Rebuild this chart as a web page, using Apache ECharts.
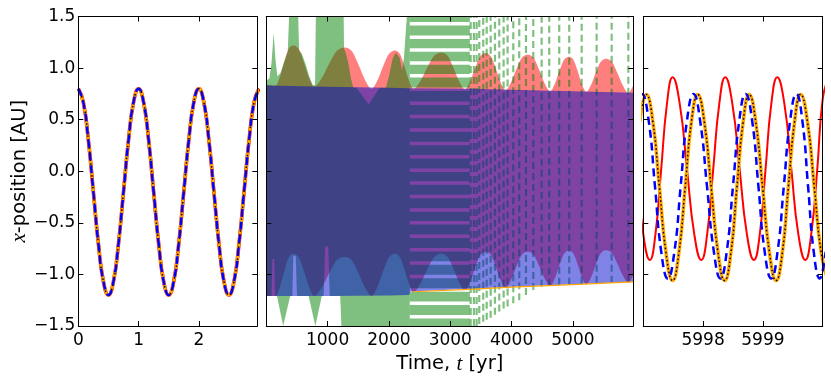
<!DOCTYPE html>
<html><head><meta charset="utf-8">
<script src="https://cdn.jsdelivr.net/npm/echarts@6/dist/echarts.min.js"></script>
<style>html,body{margin:0;padding:0;background:#fff}#c{width:831px;height:382px}</style>
</head><body><div id="c"></div>
<script>
// ---------------- DATA ----------------
// Left panel: first ~3 yr
const leftT = [0,0.083,0.167,0.25,0.333,0.417,0.5,0.583,0.667,0.75,0.833,0.917,
  1,1.083,1.167,1.25,1.333,1.417,1.5,1.583,1.667,1.75,1.833,1.917,
  2,2.083,2.167,2.25,2.333,2.417,2.5,2.583,2.667,2.75,2.833,2.917,3];
const leftX = [0.80,0.67,0.30,-0.20,-0.70,-1.07,-1.20,-1.07,-0.70,-0.20,0.30,0.67,
  0.80,0.67,0.30,-0.20,-0.70,-1.07,-1.20,-1.07,-0.70,-0.20,0.30,0.67,
  0.80,0.67,0.30,-0.20,-0.70,-1.07,-1.20,-1.07,-0.70,-0.20,0.30,0.67,0.80];

// Right panel: last 3 yr
const rightRedT = [5996.89,5997.0,5997.11,5997.205,5997.30,5997.395,5997.49,5997.61,5997.73,5997.85,5997.97,
  5998.07,5998.17,5998.27,5998.37,5998.49,5998.61,5998.73,5998.85,5998.95,5999.045,5999.14,5999.24,
  5999.36,5999.475,5999.59,5999.71,5999.81,5999.91,6000.0,6000.1];
const rightRedX = [0.025,-0.61,-0.86,-0.60,0.025,0.65,0.91,0.65,0.025,-0.60,-0.86,
  -0.60,0.025,0.65,0.91,0.65,0.025,-0.60,-0.86,-0.60,0.025,0.65,0.91,
  0.65,0.025,-0.60,-0.86,-0.60,0.025,0.70,0.91];
const rightOrangeT = [5996.94,5997.05,5997.16,5997.27,5997.38,5997.49,5997.595,5997.70,5997.805,5997.91,
  5998.02,5998.135,5998.25,5998.36,5998.465,5998.565,5998.67,5998.77,5998.88,5998.995,
  5999.11,5999.22,5999.325,5999.425,5999.53,5999.63,5999.745,5999.86,5999.975,6000.09];
const rightOrangeX = [0.48,0.745,0.48,-0.157,-0.79,-1.06,-0.79,-0.157,0.48,0.745,
  0.48,-0.157,-0.79,-1.06,-0.79,-0.157,0.48,0.745,0.48,-0.157,
  -0.79,-1.06,-0.79,-0.157,0.48,0.745,0.48,-0.157,-0.79,-1.06];
const rightBlueT = [5996.88,5996.98,5997.09,5997.195,5997.30,5997.41,5997.52,5997.625,5997.73,5997.84,5997.95,
  5998.065,5998.18,5998.29,5998.395,5998.50,5998.605,5998.71,5998.82,5998.925,
  5999.03,5999.14,5999.245,5999.35,5999.455,5999.56,5999.66,5999.755,5999.85,5999.95,6000.05];
const rightBlueX = [0.49,0.75,0.49,-0.145,-0.78,-1.04,-0.78,-0.145,0.49,0.75,0.49,
  -0.145,-0.78,-1.04,-0.78,-0.145,0.49,0.75,0.49,-0.145,
  -0.78,-1.04,-0.78,-0.145,0.49,0.75,0.49,-0.145,-0.78,-1.04,-0.78];

// Middle panel: envelopes of the densely oscillating curves
const midRedT = [0,150,222,295,368,440,525,610,695,780,905,1030,1155,1280,1389,1498,1608,1717,
  1813,1908,2004,2100,2175,2250,2325,2400,2514,2628,2743,2857,2953,3048,3144,3240,
  3324,3409,3493,3578,3658,3739,3819,3900,3990,4081,4171,4262,4354,4446,4538,4630,
  4706,4782,4859,4935,5005,5076,5146,5217,5298,5378,5459,5540,5631,5722,5813,5904,5985];
const midRedTop = [0.84,0.83,0.916,1.064,1.189,1.22,1.188,1.06,0.908,0.82,0.904,1.048,1.17,1.20,
  1.168,1.04,0.888,0.80,0.881,1.022,1.14,1.17,1.14,1.022,0.881,0.80,0.877,1.01,1.122,1.15,
  1.122,1.008,0.873,0.795,0.872,1.005,1.117,1.145,1.116,1.001,0.864,0.785,0.861,0.992,1.102,1.13,
  1.102,0.988,0.853,0.775,0.849,0.976,1.083,1.11,1.083,0.974,0.845,0.77,0.84,0.962,1.064,1.09,
  1.064,0.958,0.833,0.76,0.83];
const midRedBot = [-1.21,-1.21,-1.12,-0.964,-0.833,-0.80,-0.833,-0.964,-1.12,-1.21,-1.126,-0.982,-0.86,-0.83,
  -0.86,-0.982,-1.126,-1.21,-1.12,-0.964,-0.833,-0.80,-0.83,-0.948,-1.089,-1.17,-1.089,-0.948,-0.83,-0.80,
  -0.828,-0.941,-1.075,-1.152,-1.07,-0.929,-0.81,-0.78,-0.808,-0.92,-1.053,-1.13,-1.053,-0.92,-0.808,-0.78,
  -0.807,-0.913,-1.039,-1.112,-1.037,-0.907,-0.797,-0.77,-0.796,-0.901,-1.026,-1.098,-1.025,-0.898,-0.792,-0.765,
  -0.79,-0.891,-1.011,-1.08,-1.01];

const midBlueT = [0,1000,2000,2330,2345,3350,4000,5000,5985];
const midBlueTop = [0.83,0.82,0.81,0.805,0.805,0.80,0.79,0.775,0.76];
const midBlueBot = [-1.21,-1.21,-1.205,-1.20,-1.165,-1.14,-1.12,-1.095,-1.07];

const greenTopT = [0,50,85,120,150,180,230,290,350,372,520,535,580,640,700,760,795,808,1262,1268,
  1300,1340,1380,1420,1470,1670,1850,1950,2000,2060,2110,2175,2215,2245,2292,2340];
const greenTopX = [0.88,0.90,1.05,1.34,1.08,0.92,0.95,1.06,1.16,1.5,1.5,1.17,1.14,1.04,0.92,0.83,0.84,1.5,1.5,1.19,
  1.14,1.04,0.90,0.81,0.81,0.65,0.81,0.81,0.92,1.09,1.15,1.1,0.98,1.1,1.5,1.5];
const greenBotT = [0,85,100,128,142,175,275,390,425,440,480,500,690,800,905,935,960,1010,1035,1205,1225,2340];
const greenBotX = [-1.21,-1.21,-0.85,-0.85,-1.21,-1.21,-1.5,-1.21,-1.21,-0.82,-0.82,-1.21,-1.21,-1.5,-1.21,-1.21,
  -0.73,-0.73,-1.21,-1.21,-1.5,-1.5];

const greenStripeT = [2340, 3320];
const greenStripeGaps = [1.43,1.30,1.175,1.05,0.925,0.795,0.66,0.53,0.40,0.27,0.14,0.01,-0.115,-0.245,
  -0.375,-0.50,-0.63,-0.76,-0.89,-1.02,-1.15,-1.28,-1.41];

const greenDashT = [3333,3386,3430,3473,3538,3594,3659,3729,3799,3870,3935,4028,4125,4235,4354,4490,
  4614,4777,4940,5143,5387,5632,5904];
const greenDashLo = [-1.5,-1.5,-1.5,-1.48,-1.46,-1.44,-1.42,-1.39,-1.36,-1.33,-1.31,-1.28,-1.25,-1.20,-1.15,
  -1.12,-1.11,-1.10,-1.10,-1.09,-1.08,-1.08,-1.07];
const greenDashHi = 1.5;

const orangeEdgeT = [2400,3400,4000,5000,5985];
const orangeEdgeX = [-1.168,-1.142,-1.123,-1.098,-1.073];

const yTicks = [-1.5,-1.0,-0.5,0.0,0.5,1.0,1.5];
const leftXLabels = [0,1,2];
const midXLabels = [1000,2000,3000,4000,5000];
const rightXLabels = [5998,5999];

// ---------------- helpers ----------------
const FONT = 'DejaVu Sans';
const zip = (a,b) => a.map((v,i)=>[v,b[i]]);

function monoPts(P, sub){
  const n = P.length; if (n < 3) return P.slice();
  const h=[], s=[];
  for (let i=0;i<n-1;i++){ h[i]=P[i+1][0]-P[i][0]; s[i]=(P[i+1][1]-P[i][1])/h[i]; }
  const m = new Array(n); m[0]=s[0]; m[n-1]=s[n-2];
  for (let i=1;i<n-1;i++){
    const s0=s[i-1], s1=s[i], h0=h[i-1], h1=h[i];
    const p=(s0*h1+s1*h0)/(h0+h1);
    m[i]=((Math.sign(s0)+Math.sign(s1))*Math.min(Math.abs(s0),Math.abs(s1),0.5*Math.abs(p)))||0;
  }
  const out=[P[0]];
  for (let i=0;i<n-1;i++){
    const x0=P[i][0],y0=P[i][1],x1=P[i+1][0],y1=P[i+1][1],dx=h[i]/3;
    const c1x=x0+dx,c1y=y0+m[i]*dx,c2x=x1-dx,c2y=y1-m[i+1]*dx;
    for (let k=1;k<=sub;k++){ const u=k/sub,a=1-u;
      out.push([a*a*a*x0+3*a*a*u*c1x+3*a*u*u*c2x+u*u*u*x1, a*a*a*y0+3*a*a*u*c1y+3*a*u*u*c2y+u*u*u*y1]); }
  }
  return out;
}

function band(ti, tsU, hi, tsL, lo, color, smooth){
  return {type:'custom', xAxisIndex:ti, yAxisIndex:ti, silent:true, animation:false,
    data:[[tsU[0], hi[0]]], encode:{x:0,y:1},
    renderItem:(p, api)=>{
      let U = tsU.map((t,i)=>api.coord([t,hi[i]]));
      let D = tsL.map((t,i)=>api.coord([t,lo[i]]));
      if (smooth){ U = monoPts(U,8); D = monoPts(D,8); }
      return {type:'polygon', shape:{points:U.concat(D.slice().reverse())}, style:{fill:color}};
    }};
}

const RED='rgba(255,0,0,0.5)', GREEN='rgba(0,128,0,0.5)', BLUE='rgba(0,8,205,0.5)';

function stripes(){
  const HALF = 0.017;
  return {type:'custom', xAxisIndex:2, yAxisIndex:2, silent:true, animation:false,
    data:[[greenStripeT[0],0]], encode:{x:0,y:1},
    renderItem:(p, api)=>{
      const g = greenStripeGaps.slice().sort((a,b)=>a-b);
      const kids=[]; let prev=-1.5;
      const add=(a,b)=>{ if(b<=a) return;
        const p1=api.coord([greenStripeT[0], b]), p2=api.coord([greenStripeT[1], a]);
        kids.push({type:'rect', shape:{x:p1[0], y:p1[1], width:p2[0]-p1[0], height:p2[1]-p1[1]}, style:{fill:GREEN}}); };
      g.forEach(v=>{ add(prev, v-HALF); prev=v+HALF; });
      add(prev, 1.5);
      return {type:'group', children:kids};
    }};
}

function dashes(){
  return {type:'custom', xAxisIndex:2, yAxisIndex:2, silent:true, animation:false,
    data:[[greenDashT[0],0]], encode:{x:0,y:1},
    renderItem:(p, api)=>{
      const kids = greenDashT.map((t,i)=>{
        const a=api.coord([t, greenDashLo[i]]), b=api.coord([t, greenDashHi]);
        return {type:'line', shape:{x1:a[0],y1:a[1],x2:b[0],y2:b[1]},
          style:{stroke:GREEN, lineWidth:2.2, lineDash:[7,4]}};
      });
      return {type:'group', children:kids};
    }};
}

function line(ti, T, X, color, width, type, z){
  return {type:'line', xAxisIndex:ti, yAxisIndex:ti, data:zip(T,X), smooth:true, symbol:'none',
    silent:true, animation:false, clip:true, z:z||2,
    lineStyle:{color, width, type:type||'solid', cap:'butt'}};
}

// ---------------- axes ----------------
const grids = [
  {left:78.3, top:16.5, width:179, height:309.5},
  {left:266.3, top:16.5, width:367, height:309.5},
  {left:643.3, top:16.5, width:179.4, height:309.5}
];
const tickStyle = {show:true, inside:true, length:5, lineStyle:{color:'#000', width:1}};
const lineSt = {show:true, onZero:false, lineStyle:{color:'#000', width:1}};
const xr = [[0,2.97,1,leftXLabels],[0,5985,1000,midXLabels],[5997,6000,1,rightXLabels]];
const xAxes=[], yAxes=[];
xr.forEach((r,g)=>{
  const bottom = {type:'value', gridIndex:g, min:r[0], max:r[1], interval:r[2], position:'bottom', z:10,
    axisLine:lineSt, axisTick:tickStyle, splitLine:{show:false},
    axisLabel:{show:true, margin:6, color:'#000', fontFamily:FONT, fontSize:17, showMinLabel:true,
      formatter:(v)=> r[3].indexOf(Math.round(v*1000)/1000)>=0 ? String(Math.round(v)) : ''}};
  if (g===1){
    bottom.name='Time, {i|t} [yr]'; bottom.nameLocation='middle'; bottom.nameGap=23;
    bottom.nameTextStyle={fontFamily:FONT, fontSize:19.5, color:'#000',
      rich:{i:{fontFamily:'Liberation Serif', fontStyle:'italic', fontSize:21, color:'#000'}}};
  }
  xAxes.push(bottom);
  xAxes.push({type:'value', gridIndex:g, min:r[0], max:r[1], interval:r[2], position:'top', z:10,
    axisLine:lineSt, axisTick:tickStyle, splitLine:{show:false}, axisLabel:{show:false}});
  const left = {type:'value', gridIndex:g, min:-1.5, max:1.5, interval:0.5, position:'left', z:10,
    axisLine:lineSt, axisTick:tickStyle, splitLine:{show:false},
    axisLabel:{show:g===0, margin:3, color:'#000', fontFamily:FONT, fontSize:17,
      showMinLabel:true, showMaxLabel:true,
      formatter:(v)=> yTicks.some(t=>Math.abs(t-v)<1e-6) ? v.toFixed(1).replace('-','\u2212') : ''}};
  if (g===0){
    left.name='{i|x}-position [AU]'; left.nameLocation='middle'; left.nameGap=46;
    left.nameTextStyle={fontFamily:FONT, fontSize:19.5, color:'#000',
      rich:{i:{fontFamily:'Liberation Serif', fontStyle:'italic', fontSize:21, color:'#000'}}};
  }
  yAxes.push(left);
  yAxes.push({type:'value', gridIndex:g, min:-1.5, max:1.5, interval:0.5, position:'right', z:10,
    axisLine:lineSt, axisTick:tickStyle, splitLine:{show:false}, axisLabel:{show:false}});
});

// ---------------- series ----------------
const series = [
  // left panel
  line(0, leftT, leftX, '#ff0000', 3.6),
  line(0, leftT, leftX, '#ffa500', 3),
  line(0, leftT, leftX, '#000000', 1.5, [1.5,2.5]),
  line(0, leftT, leftX, '#0000ff', 2.5, [8,5]),
  // middle panel
  band(2, midRedT, midRedTop, midRedT, midRedBot, RED, true),
  band(2, greenTopT, greenTopX, greenBotT, greenBotX, GREEN, false),
  stripes(),
  dashes(),
  band(2, midBlueT, midBlueTop, midBlueT, midBlueBot, BLUE, false),
  {type:'line', xAxisIndex:2, yAxisIndex:2, data:zip(orangeEdgeT, orangeEdgeX), symbol:'none', silent:true,
    animation:false, lineStyle:{color:'#ffa500', width:1.2}},
  // right panel
  line(4, rightRedT, rightRedX, '#ff0000', 2),
  line(4, rightOrangeT, rightOrangeX, '#ffa500', 3.5),
  line(4, rightOrangeT, rightOrangeX, '#000000', 1.5, [1.5,2.5]),
  line(4, rightBlueT, rightBlueX, '#0000ff', 2.5, [8,5])
];

const chart = echarts.init(document.getElementById('c'), null, {renderer:'canvas'});
chart.setOption({animation:false, backgroundColor:'#fff', grid:grids, xAxis:xAxes, yAxis:yAxes, series});
</script></body></html>
